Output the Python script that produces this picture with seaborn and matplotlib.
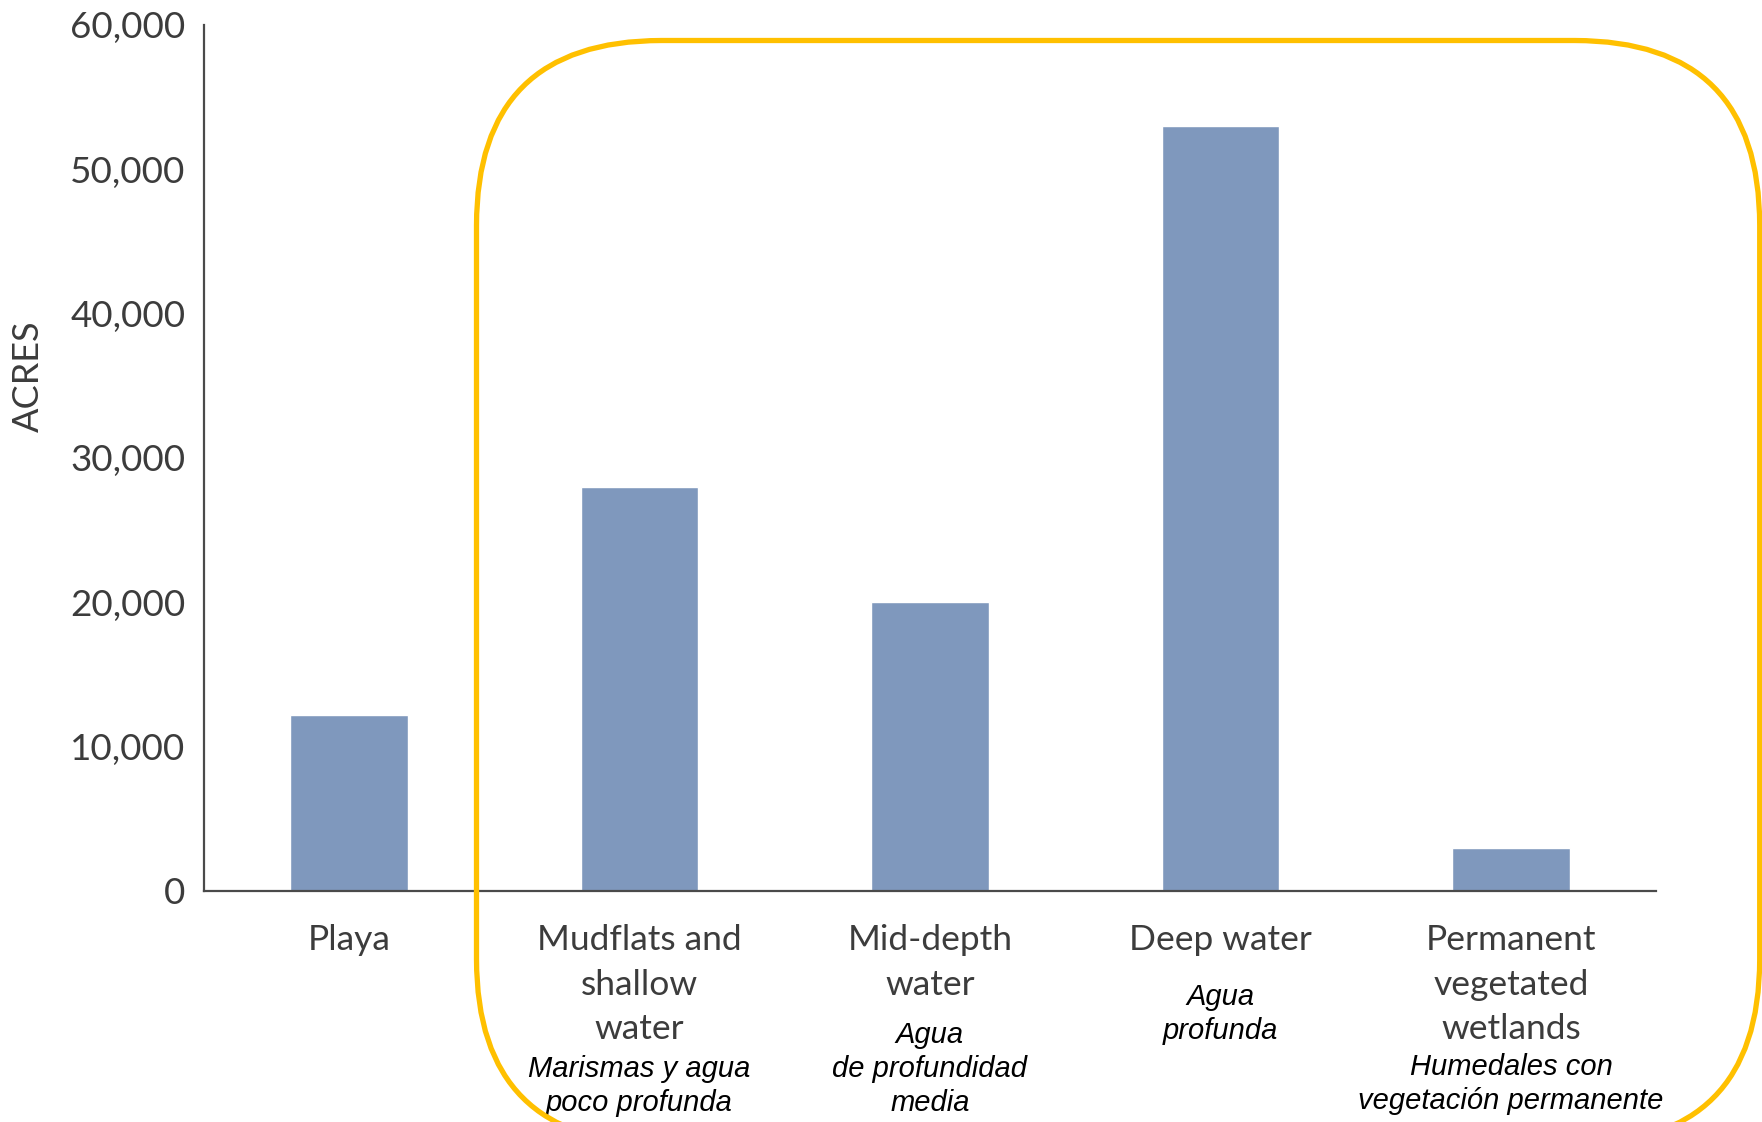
import matplotlib
matplotlib.use("Agg")
import matplotlib.pyplot as plt
from matplotlib.patches import FancyBboxPatch
from matplotlib.ticker import FuncFormatter
import seaborn as sns
import pandas as pd

# Habitat area by category
categories = ["Playa", "Mudflats and\nshallow\nwater", "Mid-depth\nwater",
              "Deep water", "Permanent\nvegetated\nwetlands"]
acres = [12200, 28000, 20000, 53000, 3000]
# Spanish translations printed under each category (one list entry per line)
spanish = [[], ["Marismas y agua", "poco profunda"],
           ["Agua", "de profundidad", "media"],
           ["Agua", "profunda"],
           ["Humedales con", "vegetación permanente"]]
y_ticks = [0, 10000, 20000, 30000, 40000, 50000, 60000]

BAR = "#7f98bd"
AXIS = "#4a4a4a"
TEXT = "#3c3c3c"
GOLD = "#ffc000"

sns.set_theme(style="white")
plt.rcParams["font.family"] = ["Lato", "DejaVu Sans"]

fig = plt.figure(figsize=(17.62, 11.22), dpi=100)
ax = fig.add_axes([0.1155, 0.2059, 0.8245, 0.7721])

df = pd.DataFrame({"category": categories, "acres": acres})
sns.barplot(data=df, x="category", y="acres", color=BAR, saturation=1,
            width=0.405, ax=ax)

ax.set_xlim(-0.5, len(categories) - 0.5)
ax.set_ylim(0, 60000)
ax.set_yticks(y_ticks)
ax.yaxis.set_major_formatter(FuncFormatter(lambda v, p: f"{int(v):,}"))
ax.set_xlabel("")
ax.set_ylabel("")

for side in ("top", "right"):
    ax.spines[side].set_visible(False)
for side in ("left", "bottom"):
    ax.spines[side].set_color(AXIS)
    ax.spines[side].set_linewidth(1.6)

ax.tick_params(axis="y", direction="in", length=25, width=1.6, color=AXIS,
               pad=13, labelsize=26.5, labelcolor=TEXT)
ax.tick_params(axis="x", length=0, pad=24, labelsize=25.5, labelcolor=TEXT)
for lab in ax.get_xticklabels():
    lab.set_linespacing(1.47)

fig.text(28 / 1762, 1 - 376 / 1122, "ACRES", rotation=90, ha="center",
         va="center", fontsize=26, color=TEXT)

# Italic Spanish captions below the English labels
line_px = 34
first_line_y = {1: 1068.6, 2: 1035.0, 3: 996.7, 4: 1067.5}
axes_h = 891.0 - 24.7
for i, lines in enumerate(spanish):
    if not lines:
        continue
    y0 = first_line_y[i]
    for k, line in enumerate(lines):
        ypix = y0 + k * line_px
        ax.text(i, (891.0 - ypix) / axes_h, line, transform=ax.get_xaxis_transform(),
                ha="center", va="center", fontsize=21, style="italic",
                color="black", family=["Liberation Sans", "DejaVu Sans"],
                clip_on=False)

# Rounded highlight frame around the water categories
frame = FancyBboxPatch((4.765, -0.22), 12.832, 11.035,
                       boxstyle="round,pad=0,rounding_size=1.85",
                       transform=fig.dpi_scale_trans, fill=False,
                       edgecolor=GOLD, linewidth=3.8, clip_on=False, zorder=5)
fig.add_artist(frame)

fig.savefig("out.png", dpi=100, facecolor="white")
